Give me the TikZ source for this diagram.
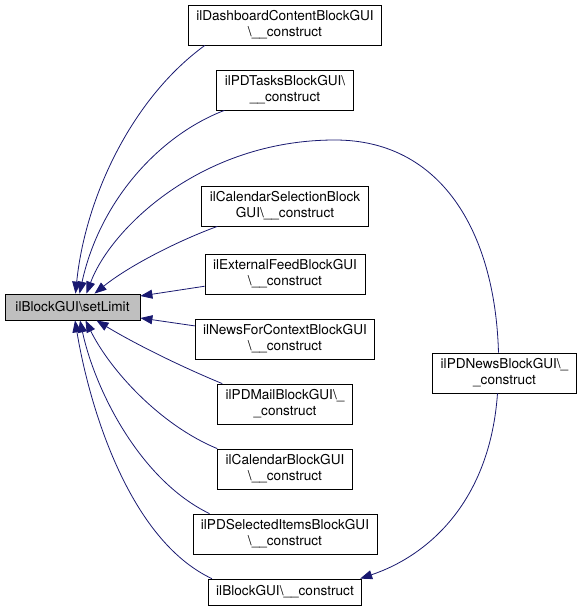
\documentclass[tikz,border=0pt]{standalone}
\usepackage{fontspec}
\setmainfont{TeX Gyre Heros}
\usetikzlibrary{arrows.meta}
\definecolor{edgeblue}{RGB}{25,25,112}
\definecolor{mainfill}{RGB}{191,191,191}
\newcommand{\ctor}{\textbackslash\_\_construct}

\begin{document}
\begin{tikzpicture}[x=1pt,y=-1pt,
    fn/.style={draw=black,fill=white,line width=0.8pt,
        font=\fontsize{13.6}{16}\selectfont,align=center,
        inner xsep=8pt,inner ysep=2pt,minimum height=26pt},
    fntwo/.style={fn,minimum height=40pt},
    call/.style={draw=edgeblue,line width=0.8pt,
        -{Triangle[length=12pt,width=9pt,fill=edgeblue]}}]
            \useasboundingbox (0,0) rectangle (585,613);
            \node[fn,fill=mainfill,minimum width=135pt] (setlimit) at (72.5,307) {ilBlockGUI\textbackslash setLimit};
            \node[fntwo] (dashboard) at (285,25) {ilDashboardContentBlockGUI\\\ctor};
            \node[fntwo] (pdtasks) at (285,90) {ilPDTasksBlockGUI\textbackslash\\\_\_construct};
            \node[fntwo] (calsel) at (285,206) {ilCalendarSelectionBlock\\GUI\ctor};
            \node[fntwo] (extfeed) at (285,274) {ilExternalFeedBlockGUI\\\ctor};
            \node[fntwo] (newsctx) at (285,339) {ilNewsForContextBlockGUI\\\ctor};
            \node[fntwo] (pdmail) at (285,404) {ilPDMailBlockGUI\textbackslash\_\\\_construct};
            \node[fntwo] (calendar) at (285,469) {ilCalendarBlockGUI\\\ctor};
            \node[fntwo] (pdselected) at (285,534) {ilPDSelectedItemsBlockGUI\\\ctor};
            \node[fn] (blockctor) at (285,592) {ilBlockGUI\ctor};
            \node[fntwo] (pdnews) at (504.5,373) {ilPDNewsBlockGUI\textbackslash\_\\\_construct};
            \draw[call] ([xshift=17pt]dashboard.south west) .. controls (130,100) and (85,200) .. ([xshift=3pt]setlimit.north);
            \draw[call] ([xshift=8pt]pdtasks.south west) .. controls (160,135) and (100,200) .. ([xshift=7pt]setlimit.north);
            \draw[call] ([xshift=-6pt]pdnews.north) .. controls (495,230) and (440,140) .. (335,140)
                .. controls (200,140) and (110,230) .. ([xshift=14pt]setlimit.north);
            \draw[call] ([xshift=16pt]calsel.south west) .. controls (180,240) and (130,265) .. ([xshift=22pt]setlimit.north);
            \draw[call] (extfeed) -- ([yshift=11pt]setlimit.east);
            \draw[call] (newsctx) -- ([yshift=-11pt]setlimit.east);
            \draw[call] ([xshift=5pt]pdmail.north west) .. controls (170,362) and (125,338) .. ([xshift=24pt]setlimit.south);
            \draw[call] ([xshift=0pt]calendar.north west) .. controls (160,425) and (110,370) .. ([xshift=13pt]setlimit.south);
            \draw[call] ([xshift=17pt]pdselected.north west) .. controls (140,480) and (95,390) .. ([xshift=7.5pt]setlimit.south);
            \draw[call] ([xshift=4pt]blockctor.north west) .. controls (130,540) and (90,410) .. ([xshift=2.5pt]setlimit.south);
            \draw[call] ([xshift=-7pt]pdnews.south) .. controls (490,500) and (430,555) .. ([xshift=-2pt]blockctor.north east);
\end{tikzpicture}
\end{document}
